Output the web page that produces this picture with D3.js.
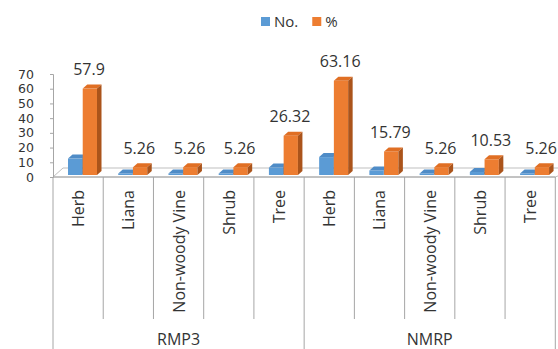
<!DOCTYPE html>
<html>
<head>
<meta charset="utf-8">
<script src="https://cdn.jsdelivr.net/npm/d3@7/dist/d3.min.js"></script>
<style>
  html, body { margin: 0; padding: 0; background: #fff; }
  svg { display: block; font-family: "Open Sans", sans-serif; }
</style>
</head>
<body>
<svg id="chart" width="558" height="349"></svg>
<script>
// Growth forms per site
const categories = ['Herb', 'Liana', 'Non-woody Vine', 'Shrub', 'Tree',
                    'Herb', 'Liana', 'Non-woody Vine', 'Shrub', 'Tree'];
const groups = ['RMP3', 'NMRP'];
const groupSize = 5;
const seriesNames = ['No.', '%'];
const countValues = [11, 1, 1, 1, 5, 12, 3, 1, 2, 1];
const percentValues = [57.9, 5.26, 5.26, 5.26, 26.32, 63.16, 15.79, 5.26, 10.53, 5.26];
const yTicks = [0, 10, 20, 30, 40, 50, 60, 70];

const colors = {
  'No.': { front: '#5b9bd5', top: '#4f8cc7', side: '#3d6f9f' },
  '%':   { front: '#ed7d31', top: '#e06f24', side: '#ab541b' }
};

const svg = d3.select('#chart');
const W = 558, H = 349;
svg.append('rect').attr('width', W).attr('height', H).attr('fill', '#fff');

const left = 53, right = 555.3;
const axisY = 177;
const x = d3.scaleBand().domain(d3.range(categories.length)).range([left, right]);
const xs = d3.scaleBand().domain(seriesNames).range([15, 44]).paddingInner(0.03);
const yAxisScale = d3.scaleLinear().domain([0, 70]).range([axisY, 74]);
const yBar = d3.scaleLinear().domain([0, 70]).range([175, 70.5]);
const DX = 4.5, DY = -4;
const lineColor = '#a6a6a6';
const textColor = '#333333';

// floor of the 3-D plot
const floorBack = 168;
svg.append('polygon')
  .attr('points', [[left, axisY], [left + 10, floorBack], [W + 20, floorBack], [right, axisY]].join(' '))
  .attr('fill', '#fff')
  .attr('stroke', '#bfbfbf')
  .attr('stroke-width', 1);

// value axis
const yAxis = d3.axisLeft(yAxisScale).tickValues(yTicks).tickSize(3).tickPadding(16);
const gy = svg.append('g').attr('transform', `translate(${left},0)`).call(yAxis);
gy.select('.domain').attr('stroke', lineColor);
gy.selectAll('.tick line').attr('stroke', lineColor);
gy.selectAll('.tick text')
  .attr('fill', textColor)
  .style('font-size', '12.5px')
  .style('font-family', '"DejaVu Sans", sans-serif');

// columns
const rows = categories.map((c, i) => ({ i, values: [countValues[i], percentValues[i]] }));
const catG = svg.append('g').selectAll('g').data(rows).join('g');

catG.each(function(d) {
  const g = d3.select(this);
  seriesNames.forEach((s, k) => {
    const v = d.values[k];
    const x1 = x(d.i) + xs(s);
    const w = xs.bandwidth();
    const y0 = yBar(0), y1 = yBar(v);
    const c = colors[s];
    g.append('rect')
      .attr('x', x1).attr('y', y1)
      .attr('width', w).attr('height', y0 - y1)
      .attr('fill', c.front);
    g.append('polygon')
      .attr('points', [[x1, y1], [x1 + DX, y1 + DY], [x1 + w + DX, y1 + DY], [x1 + w, y1]].join(' '))
      .attr('fill', c.top);
    g.append('polygon')
      .attr('points', [[x1 + w, y1], [x1 + w + DX, y1 + DY], [x1 + w + DX, y0 + DY], [x1 + w, y0]].join(' '))
      .attr('fill', c.side);
  });
});

// percentage labels
svg.append('g').selectAll('text').data(percentValues).join('text')
  .attr('x', (d, i) => x(i) + 36)
  .attr('y', d => yBar(d) - 13.5)
  .attr('text-anchor', 'middle')
  .attr('fill', textColor)
  .style('font-size', '16px')
  .text(d => d);

// category axis line
svg.append('line')
  .attr('x1', left).attr('x2', right)
  .attr('y1', axisY).attr('y2', axisY)
  .attr('stroke', lineColor);

// category separators; group boundaries run to the bottom
const bounds = d3.range(categories.length + 1);
svg.append('g').selectAll('line').data(bounds).join('line')
  .attr('x1', i => i < categories.length ? x(i) : right)
  .attr('x2', i => i < categories.length ? x(i) : right)
  .attr('y1', axisY)
  .attr('y2', i => (i % groupSize === 0) ? H : 319)
  .attr('stroke', lineColor);

// category labels (rotated)
svg.append('g').selectAll('text').data(categories).join('text')
  .attr('transform', (d, i) => `translate(${x(i) + x.bandwidth() / 2 + 6},190) rotate(-90)`)
  .attr('text-anchor', 'end')
  .attr('fill', textColor)
  .style('font-size', '16px')
  .text(d => d);

// group labels
svg.append('g').selectAll('text').data(groups).join('text')
  .attr('x', (d, gi) => (x(gi * groupSize) + (gi + 1 < groups.length ? x((gi + 1) * groupSize) : right)) / 2)
  .attr('y', 345)
  .attr('text-anchor', 'middle')
  .attr('fill', textColor)
  .style('font-size', '16px')
  .text(d => d);

// legend
const legend = svg.append('g');
let lx = 261;
seriesNames.forEach(s => {
  legend.append('rect').attr('x', lx).attr('y', 17).attr('width', 9).attr('height', 9)
    .attr('fill', colors[s].front);
  const t = legend.append('text').attr('x', lx + 13).attr('y', 26.5)
    .attr('fill', textColor).style('font-size', '15px').text(s);
  lx = lx + 13 + t.node().getComputedTextLength() + 14;
});
</script>
</body>
</html>
